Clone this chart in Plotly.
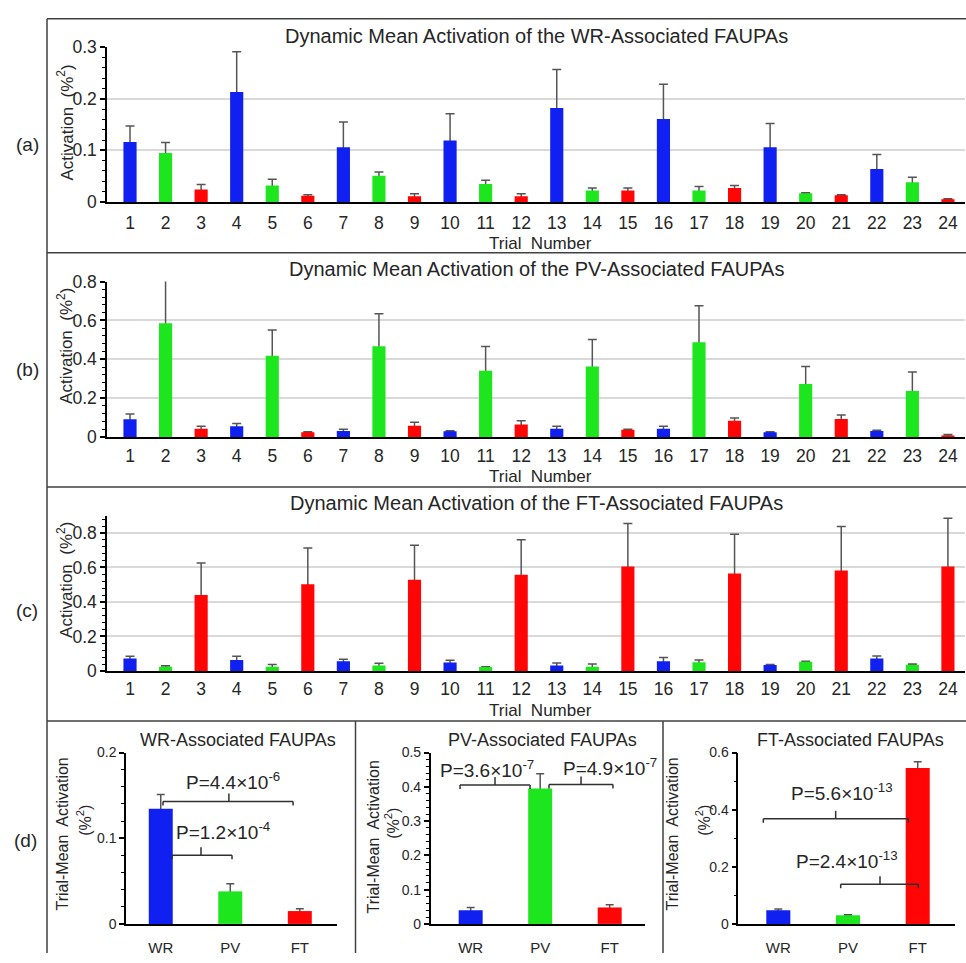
import plotly.graph_objects as go

W, H = 966, 963
FONT = "Arial, Liberation Sans, sans-serif"
INK = "#262626"
ERR = "#555555"
FRAME = "#404040"

# ---------------------------------------------------------------- data
trials = [1, 2, 3, 4, 5, 6, 7, 8, 9, 10, 11, 12,
          13, 14, 15, 16, 17, 18, 19, 20, 21, 22, 23, 24]
trial_type = ["WR", "PV", "FT"] * 8
type_color = {"WR": "#1020f0", "PV": "#1ee61e", "FT": "#ff0505"}

# dynamic mean activation (per trial) and its SEM
wr_mean = [0.116, 0.095, 0.024, 0.213, 0.032, 0.012, 0.106, 0.051, 0.011, 0.119, 0.035, 0.011,
           0.182, 0.022, 0.022, 0.161, 0.022, 0.027, 0.106, 0.017, 0.013, 0.064, 0.038, 0.005]
wr_sem = [0.031, 0.020, 0.010, 0.078, 0.012, 0.002, 0.049, 0.007, 0.005, 0.052, 0.007, 0.005,
          0.075, 0.005, 0.005, 0.067, 0.008, 0.005, 0.046, 0.001, 0.001, 0.028, 0.010, 0.001]

pv_mean = [0.091, 0.585, 0.042, 0.055, 0.418, 0.024, 0.030, 0.467, 0.057, 0.029, 0.341, 0.064,
           0.042, 0.363, 0.037, 0.042, 0.487, 0.084, 0.024, 0.272, 0.092, 0.030, 0.237, 0.008]
pv_sem = [0.027, 0.245, 0.013, 0.014, 0.132, 0.003, 0.010, 0.167, 0.019, 0.003, 0.125, 0.020,
          0.013, 0.138, 0.003, 0.013, 0.189, 0.013, 0.003, 0.091, 0.021, 0.004, 0.097, 0.004]

ft_mean = [0.072, 0.025, 0.441, 0.064, 0.025, 0.503, 0.057, 0.032, 0.528, 0.049, 0.023, 0.558,
           0.032, 0.025, 0.605, 0.057, 0.051, 0.565, 0.034, 0.053, 0.582, 0.072, 0.036, 0.605]
ft_sem = [0.013, 0.005, 0.185, 0.021, 0.013, 0.210, 0.011, 0.013, 0.200, 0.013, 0.002, 0.202,
          0.015, 0.015, 0.250, 0.021, 0.013, 0.227, 0.004, 0.004, 0.256, 0.015, 0.004, 0.280]

# trial-mean activation by group
groups = ["WR", "PV", "FT"]
wr_group_mean = [0.1345, 0.038, 0.015]
wr_group_sem = [0.0165, 0.009, 0.0026]
pv_group_mean = [0.040, 0.395, 0.048]
pv_group_sem = [0.0076, 0.043, 0.008]
ft_group_mean = [0.048, 0.030, 0.546]
ft_group_sem = [0.0046, 0.002, 0.022]

# pairwise comparisons: (group a, group b, p-value text)
wr_tests = [("WR", "FT", "P=4.4×10<sup>-6</sup>"), ("WR", "PV", "P=1.2×10<sup>-4</sup>")]
pv_tests = [("WR", "PV", "P=3.6×10<sup>-7</sup>"), ("PV", "FT", "P=4.9×10<sup>-7</sup>")]
ft_tests = [("WR", "FT", "P=5.6×10<sup>-13</sup>"), ("PV", "FT", "P=2.4×10<sup>-13</sup>")]


def fx(px):
    return px / W


def fy(py):
    return 1 - py / H


fig = go.Figure()
annotations = []
shapes = []


def txt(x, y, s, size, **kw):
    d = dict(x=x, y=y, text=s, showarrow=False, xref="paper", yref="paper",
             xanchor="center", yanchor="middle",
             font=dict(family=FONT, size=size, color=INK))
    d.update(kw)
    annotations.append(d)


# ---------------------------------------------------------------- panels a-c
top_panels = [
    dict(mean=wr_mean, sem=wr_sem, title="Dynamic Mean Activation of the WR-Associated FAUPAs",
         letter="(a)", yrange=[0, 0.3], dtick=0.1, minor=0.02,
         top=38, zero=196, title_y=27, letter_y=137, ytitle_y=115, xtitle_y=238, standoff=4),
    dict(mean=pv_mean, sem=pv_sem, title="Dynamic Mean Activation of the PV-Associated FAUPAs",
         letter="(b)", yrange=[0, 0.8], dtick=0.2, minor=0.04,
         top=277.3, zero=436, title_y=265, letter_y=367, ytitle_y=343, xtitle_y=476, standoff=2),
    dict(mean=ft_mean, sem=ft_sem, title="Dynamic Mean Activation of the FT-Associated FAUPAs",
         letter="(c)", yrange=[0, 0.9], dtick=0.2, minor=0.04,
         top=516.4, zero=675, title_y=503, letter_y=613, ytitle_y=582, xtitle_y=715, standoff=1),
]

bar_colors = [type_color[t] for t in trial_type]

for i, p in enumerate(top_panels):
    sfx = "" if i == 0 else str(i + 1)
    xa, ya = "x" + sfx, "y" + sfx
    # error bars underneath, bars on top
    fig.add_trace(go.Bar(x=trials, y=p["mean"], width=0.37, xaxis=xa, yaxis=ya,
                         marker=dict(color="rgba(0,0,0,0)", line=dict(width=0)),
                         error_y=dict(type="data", array=p["sem"], color=ERR,
                                      thickness=1.5, width=4.5),
                         hoverinfo="skip", showlegend=False))
    fig.add_trace(go.Bar(x=trials, y=p["mean"], width=0.37, xaxis=xa, yaxis=ya,
                         marker=dict(color=bar_colors, line=dict(width=0)),
                         showlegend=False))
    fig.update_layout(**{
        "xaxis" + sfx: dict(domain=[fx(107), fx(965)], range=[0.353, 24.48], anchor=ya,
                            tickmode="array", tickvals=trials, ticktext=[str(t) for t in trials],
                            ticks="", showline=True, linecolor="black", linewidth=2,
                            showgrid=False, zeroline=False, ticklabelstandoff=p["standoff"],
                            tickfont=dict(family=FONT, size=17.5, color=INK), fixedrange=True),
        "yaxis" + sfx: dict(domain=[fy(p["zero"]), fy(p["top"])], range=p["yrange"], anchor=xa,
                            dtick=p["dtick"], tick0=0, ticks="outside", ticklen=5, tickwidth=1.5,
                            tickcolor="black", showline=True, linecolor="black", linewidth=1.5,
                            showgrid=True, gridcolor="#d9d9d9", gridwidth=1.5, zeroline=False,
                            minor=dict(dtick=p["minor"], tick0=0, ticks="outside", ticklen=3,
                                       tickcolor="black", tickwidth=1, showgrid=False),
                            tickfont=dict(family=FONT, size=17.5, color=INK), fixedrange=True),
    })
    txt(fx(536), fy(p["title_y"]), p["title"], 20)
    txt(fx(27), fy(p["letter_y"]), p["letter"], 19)
    txt(fx(65), fy(p["ytitle_y"]), "Activation  (%<sup>2</sup>)", 17, textangle=-90)
    txt(fx(540), fy(p["xtitle_y"]), "Trial  Number", 17)

# ---------------------------------------------------------------- panel d
bottom_panels = [
    dict(mean=wr_group_mean, sem=wr_group_sem, tests=wr_tests, title="WR-Associated FAUPAs",
         left=126, right=337, xrange=[-0.5, 2.535], yrange=[0, 0.2], dtick=0.1, minor=0.02,
         title_x=238, yt1=63, yt2=84, yt_y=842,
         brackets=[dict(x0=0.032, x1=1.903, xc=0.98, y=0.143, tx=1.04, ty=0.167),
                   dict(x0=0.162, x1=1.025, xc=0.579, y=0.080, tx=0.896, ty=0.109)]),
    dict(mean=pv_group_mean, sem=pv_group_sem, tests=pv_tests, title="PV-Associated FAUPAs",
         left=430.7, right=645, xrange=[-0.575, 2.508], yrange=[0, 0.5], dtick=0.1, minor=0.02,
         title_x=542, yt1=373, yt2=392, yt_y=845,
         brackets=[dict(x0=-0.153, x1=0.854, xc=0.35, y=0.405, tx=0.231, ty=0.452),
                   dict(x0=1.127, x1=2.047, xc=1.588, y=0.407, tx=2.005, ty=0.458)]),
    dict(mean=ft_group_mean, sem=ft_group_sem, tests=ft_tests, title="FT-Associated FAUPAs",
         left=738.3, right=955, xrange=[-0.574, 2.535], yrange=[0, 0.6], dtick=0.2, minor=0.1,
         title_x=850, yt1=673, yt2=703, yt_y=842,
         brackets=[dict(x0=-0.215, x1=1.865, xc=0.823, y=0.368, tx=0.909, ty=0.463),
                   dict(x0=0.895, x1=2.008, xc=1.459, y=0.139, tx=0.981, ty=0.223)]),
]

group_colors = [type_color[g] for g in groups]
bline = dict(color="#303030", width=1.5)

for j, p in enumerate(bottom_panels):
    n = j + 4
    xa, ya = "x%d" % n, "y%d" % n
    fig.add_trace(go.Bar(x=groups, y=p["mean"], width=0.345, xaxis=xa, yaxis=ya,
                         marker=dict(color="rgba(0,0,0,0)", line=dict(width=0)),
                         error_y=dict(type="data", array=p["sem"], color=ERR,
                                      thickness=1.5, width=4),
                         hoverinfo="skip", showlegend=False))
    fig.add_trace(go.Bar(x=groups, y=p["mean"], width=0.345, xaxis=xa, yaxis=ya,
                         marker=dict(color=group_colors, line=dict(width=0)),
                         showlegend=False))
    fig.update_layout(**{
        "xaxis%d" % n: dict(domain=[fx(p["left"]), fx(p["right"])], range=p["xrange"], anchor=ya,
                            type="category", ticks="", showline=True, linecolor="black",
                            linewidth=1.5, showgrid=False, zeroline=False, ticklabelstandoff=9,
                            tickfont=dict(family=FONT, size=15, color=INK), fixedrange=True),
        "yaxis%d" % n: dict(domain=[fy(933.3), fy(758.3)], range=p["yrange"], anchor=xa,
                            dtick=p["dtick"], tick0=0, ticks="outside", ticklen=5, tickwidth=1.5,
                            tickcolor="black", showline=True, linecolor="black", linewidth=1.5,
                            showgrid=False, zeroline=False,
                            minor=dict(dtick=p["minor"], tick0=0, ticks="outside", ticklen=3,
                                       tickcolor="black", tickwidth=1, showgrid=False),
                            tickfont=dict(family=FONT, size=14, color=INK), fixedrange=True),
    })
    txt(fx(p["title_x"]), fy(745), p["title"], 18)
    txt(fx(p["yt1"]), fy(p["yt_y"]), "Trial-Mean  Activation", 16, textangle=-90)
    txt(fx(p["yt2"]), fy(p["yt_y"] - 14), "(%<sup>2</sup>)", 16, textangle=-90)

    for (ga, gb, ptxt), b in zip(p["tests"], p["brackets"]):
        shapes.append(dict(type="line", xref=xa, yref=ya, x0=b["x0"], x1=b["x1"],
                           y0=b["y"], y1=b["y"], line=bline))
        for xe in (b["x0"], b["x1"]):
            shapes.append(dict(type="line", xref=xa, yref=ya, ysizemode="pixel",
                               yanchor=b["y"], x0=xe, x1=xe, y0=0, y1=-4, line=bline))
        shapes.append(dict(type="line", xref=xa, yref=ya, ysizemode="pixel",
                           yanchor=b["y"], x0=b["xc"], x1=b["xc"], y0=0, y1=8, line=bline))
        annotations.append(dict(x=b["tx"], y=b["ty"], xref=xa, yref=ya, text=ptxt,
                                showarrow=False, xanchor="center", yanchor="middle",
                                font=dict(family=FONT, size=19, color=INK)))

txt(fx(25), fy(848), "(d)", 19)

# ---------------------------------------------------------------- frame
def frame_line(x0, y0, x1, y1):
    shapes.append(dict(type="line", xref="paper", yref="paper",
                       x0=fx(x0), y0=fy(y0), x1=fx(x1), y1=fy(y1),
                       line=dict(color=FRAME, width=1.5)))


frame_line(47, 9, 966, 9)
frame_line(47, 9, 47, 963)
for yy in (248, 487, 726):
    frame_line(47, yy, 966, yy)
frame_line(355.5, 726, 355.5, 963)
frame_line(663, 726, 663, 963)

fig.update_layout(width=W, height=H, autosize=False,
                  margin=dict(l=0, r=0, t=0, b=0),
                  paper_bgcolor="white", plot_bgcolor="white",
                  barmode="overlay", showlegend=False,
                  annotations=annotations, shapes=shapes,
                  font=dict(family=FONT, color=INK))

# page without the default body margin so the figure fills the window exactly
fig.write_html("out.html",
               post_script="document.body.style.margin='0';"
                           "document.body.style.overflow='hidden';")
